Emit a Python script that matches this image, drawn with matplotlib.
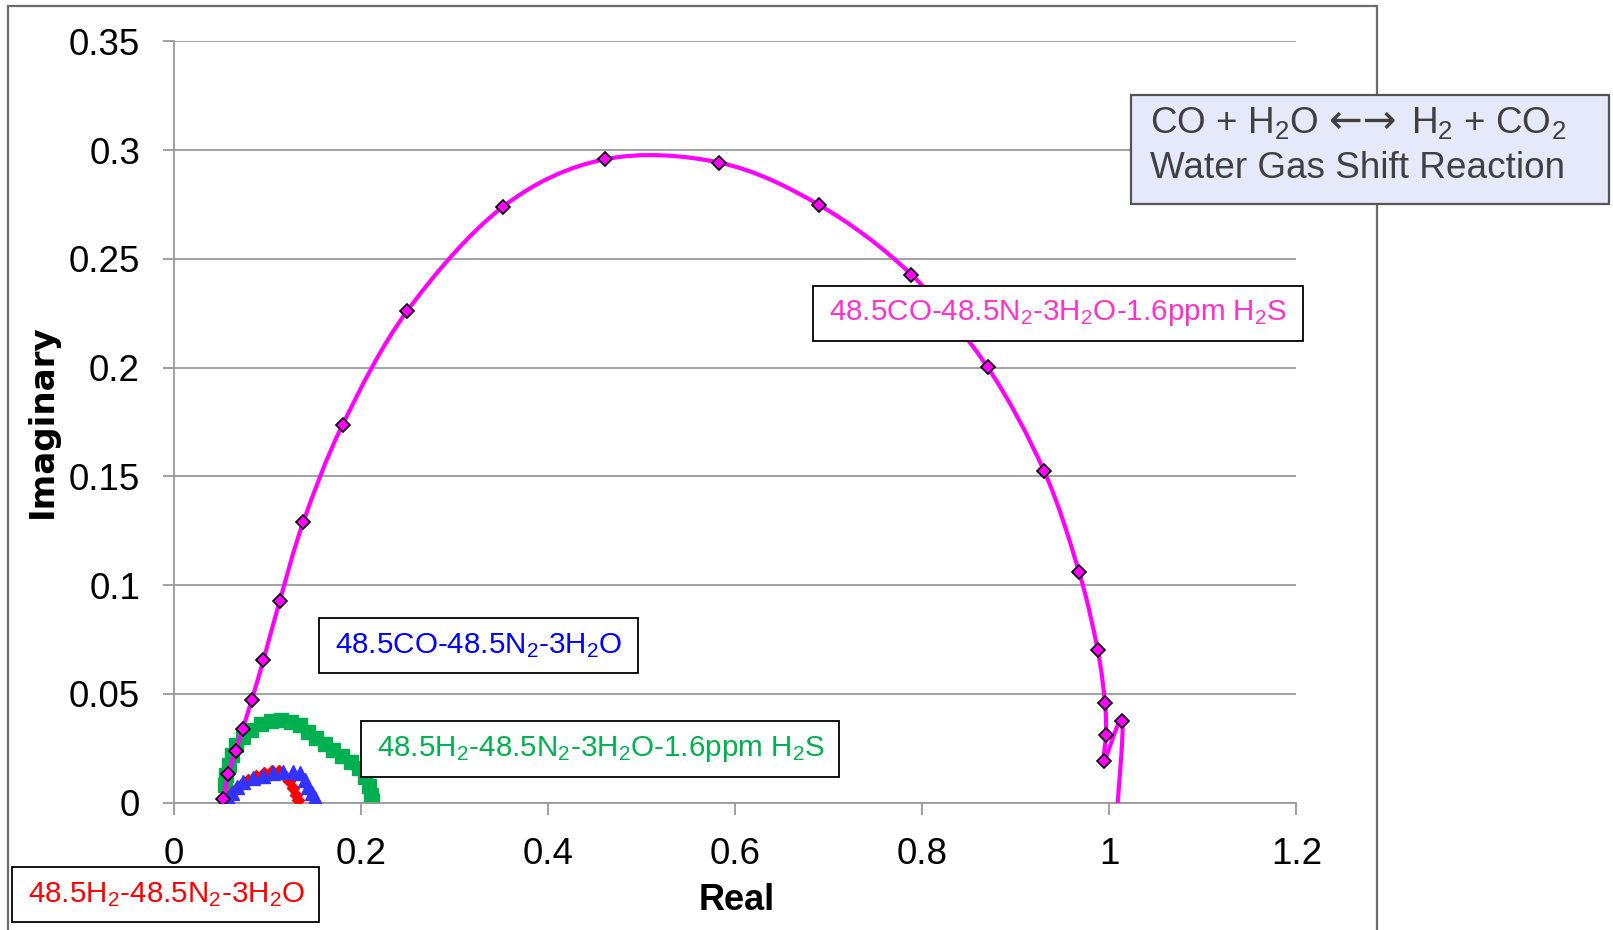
#!/usr/bin/env python3
"""
Nyquist plot: impedance spectra for WGS gas mixtures
"""

import numpy as np
import matplotlib
matplotlib.use('Agg')
import matplotlib.pyplot as plt
from matplotlib.path import Path
from matplotlib.patches import PathPatch, Rectangle

plt.rcParams['font.family'] = ['Liberation Sans', 'DejaVu Sans']
plt.rcParams['mathtext.default'] = 'regular'

W, H = 1613, 930

# --- data ---
# 48.5CO-48.5N2-3H2O-1.6ppm H2S  (magenta diamonds, smoothed line)
co_h2s_re = [0.053, 0.0584, 0.0663, 0.0737, 0.0834, 0.0958, 0.1134, 0.1387,
             0.1805, 0.2498, 0.3520, 0.4609, 0.5829, 0.6895, 0.7885, 0.8699,
             0.9303, 0.9677, 0.9876, 0.9954, 0.9965, 0.9947, 1.0139, 1.0072]
co_h2s_im = [0.0016, 0.0132, 0.0239, 0.0339, 0.0472, 0.0654, 0.0928, 0.1292,
             0.1737, 0.2262, 0.2740, 0.2958, 0.2943, 0.2749, 0.2428, 0.2002,
             0.1525, 0.1061, 0.0702, 0.0457, 0.0311, 0.0193, 0.0376, -0.0100]

# 48.5H2-48.5N2-3H2O-1.6ppm H2S  (green squares)
h2_h2s_re = [0.0548, 0.0564, 0.0586, 0.0618, 0.0671, 0.0741, 0.0826, 0.0933,
             0.1040, 0.1147, 0.1254, 0.1350, 0.1435, 0.1521, 0.1612, 0.1703,
             0.1799, 0.1895, 0.1981, 0.2045, 0.2088, 0.2114, 0.2120]
h2_h2s_im = [0.0081, 0.0127, 0.0173, 0.0219, 0.0265, 0.0302, 0.0334, 0.0362,
             0.0376, 0.0380, 0.0373, 0.0355, 0.0327, 0.0297, 0.0268, 0.0240,
             0.0215, 0.0189, 0.0160, 0.0118, 0.0077, 0.0035, 0.0008]

# 48.5CO-48.5N2-3H2O  (blue triangles)
co_re = [0.0584, 0.0620, 0.0673, 0.0744, 0.0851, 0.0958, 0.1065, 0.1171,
         0.1278, 0.1350, 0.1403, 0.1439, 0.1475, 0.1510]
co_im = [0.0020, 0.0043, 0.0074, 0.0097, 0.0112, 0.0123, 0.0135, 0.0143,
         0.0143, 0.0135, 0.0104, 0.0074, 0.0043, 0.0020]

# 48.5H2-48.5N2-3H2O  (red diamonds)
h2_re = [0.0559, 0.0602, 0.0655, 0.0719, 0.0794, 0.0880, 0.0965, 0.1051,
         0.1125, 0.1179, 0.1232, 0.1275, 0.1307, 0.1329]
h2_im = [0.0012, 0.0035, 0.0058, 0.0081, 0.0104, 0.0123, 0.0137, 0.0146,
         0.0146, 0.0127, 0.0100, 0.0068, 0.0035, 0.0012]

x_ticks = [0, 0.2, 0.4, 0.6, 0.8, 1.0, 1.2]
x_labels = ['0', '0.2', '0.4', '0.6', '0.8', '1', '1.2']
y_ticks = [0, 0.05, 0.1, 0.15, 0.2, 0.25, 0.3, 0.35]
y_labels = ['0', '0.05', '0.1', '0.15', '0.2', '0.25', '0.3', '0.35']


def fx(px):
    return px / W


def fy(py):
    return 1 - py / H


def smooth_path(xs, ys):
    """Bezier path through the points (Excel-like smoothed line)"""
    p = np.column_stack([xs, ys])
    n = len(p)
    verts = [p[0]]
    codes = [Path.MOVETO]
    for i in range(n - 1):
        p0 = p[i - 1] if i > 0 else p[i]
        p3 = p[i + 2] if i + 2 < n else p[i + 1]
        c1 = p[i] + (p[i + 1] - p0) / 6.0
        c2 = p[i + 1] - (p3 - p[i]) / 6.0
        verts += [c1, c2, p[i + 1]]
        codes += [Path.CURVE4] * 3
    return Path(verts, codes)


def label_box(fig, x0, y0, x1, y1, text, color, size, tx, fc='white',
              ec='black', lw=1.3):
    fig.patches.append(Rectangle((fx(x0), fy(y1)), fx(x1 - x0), (y1 - y0) / H,
                                 transform=fig.transFigure, facecolor=fc,
                                 edgecolor=ec, linewidth=lw, zorder=5))
    fig.text(fx(tx), fy((y0 + y1) / 2), text, color=color, fontsize=size,
             ha='left', va='center', zorder=6)


fig = plt.figure(figsize=(W / 100, H / 100), dpi=100)

# chart area frame
fig.patches.append(Rectangle((fx(8), fy(960)), fx(1376.7 - 8), (960 - 5.7) / H,
                             transform=fig.transFigure, facecolor='none',
                             edgecolor='#6b6b6b', linewidth=1.6, zorder=-1))

ax = fig.add_axes([fx(173.7), fy(802.7), fx(1296.4 - 173.7), (802.7 - 41.4) / H])
ax.set_facecolor('none')

grid_c = '#9a9a9a'
ax.set_xlim(0, 1.2)
ax.set_ylim(0, 0.35)
ax.set_xticks(x_ticks)
ax.set_xticklabels(x_labels)
ax.set_yticks(y_ticks)
ax.set_yticklabels(y_labels)
ax.yaxis.grid(True, color=grid_c, linewidth=1.3)
ax.set_axisbelow(True)
for s in ['top', 'right']:
    ax.spines[s].set_visible(False)
for s in ['left', 'bottom']:
    ax.spines[s].set_color(grid_c)
    ax.spines[s].set_linewidth(1.3)
ax.tick_params(axis='y', length=7.7, width=1.3, color=grid_c, pad=16.5,
               labelsize=26.5)
ax.tick_params(axis='x', length=8.6, width=1.3, color=grid_c, pad=16,
               labelsize=26.5)

# series
ax.plot(h2_re, h2_im, linestyle='none', marker='D', markersize=6.5,
        color='#ff0000', markeredgecolor='#ff0000', zorder=3)
ax.plot(co_re, co_im, linestyle='none', marker='^', markersize=10.5,
        color='#3333ff', markeredgecolor='#3333ff', zorder=4)
ax.plot(h2_h2s_re, h2_h2s_im, linestyle='none', marker='s', markersize=10,
        color='#00b050', markeredgecolor='#00b050', zorder=2)

ax.add_patch(PathPatch(smooth_path(co_h2s_re, co_h2s_im), facecolor='none',
                       edgecolor='#ff00ff', linewidth=3, zorder=5))
ax.plot(co_h2s_re, co_h2s_im, linestyle='none', marker='D', markersize=7,
        markerfacecolor='#ff00ff', markeredgecolor='black',
        markeredgewidth=1.2, zorder=6)

# axis titles
fig.text(fx(42), fy(421), 'Imaginary', rotation=90, fontsize=24.6,
         fontweight='bold', family='DejaVu Sans', ha='center', va='center')
fig.text(fx(737), fy(910), 'Real', fontsize=26, fontweight='bold',
         ha='center', va='baseline')

# series labels
label_box(fig, 812.7, 285.7, 1303, 341,
          '48.5CO-48.5N$_2$-3H$_2$O-1.6ppm H$_2$S', '#ff33cc', 21.3, 829)
label_box(fig, 318.6, 617.5, 637.9, 673,
          '48.5CO-48.5N$_2$-3H$_2$O', '#0000ff', 21.3, 334.8)
label_box(fig, 360.5, 720.5, 839, 777,
          '48.5H$_2$-48.5N$_2$-3H$_2$O-1.6ppm H$_2$S', '#00b050', 21.3, 377)
label_box(fig, 12, 867.3, 319.3, 921.7,
          '48.5H$_2$-48.5N$_2$-3H$_2$O', '#ff0000', 21.3, 28.3)

# reaction box
fig.patches.append(Rectangle((fx(1130.7), fy(204)), fx(1609 - 1130.7), (204 - 95) / H,
                             transform=fig.transFigure, facecolor='#e6e9fa',
                             edgecolor='#555555', linewidth=1.6, zorder=5))
wgs_c = '#404040'
fig.text(fx(1150), fy(133.3), 'CO + H$_2$O', color=wgs_c, fontsize=26.6,
         ha='left', va='baseline', zorder=6)
fig.text(fx(1329), fy(133.3), '\u2190\u2192', color=wgs_c, fontsize=29,
         family='DejaVu Sans', ha='left', va='baseline', zorder=6)
fig.text(fx(1411), fy(133.3), 'H$_2$ + CO$_2$', color=wgs_c, fontsize=26.6,
         ha='left', va='baseline', zorder=6)
fig.text(fx(1150), fy(178.3), 'Water Gas Shift Reaction',
         color=wgs_c, fontsize=26.6, ha='left', va='baseline', zorder=6)

plt.savefig('out.png', dpi=100)
plt.close()
